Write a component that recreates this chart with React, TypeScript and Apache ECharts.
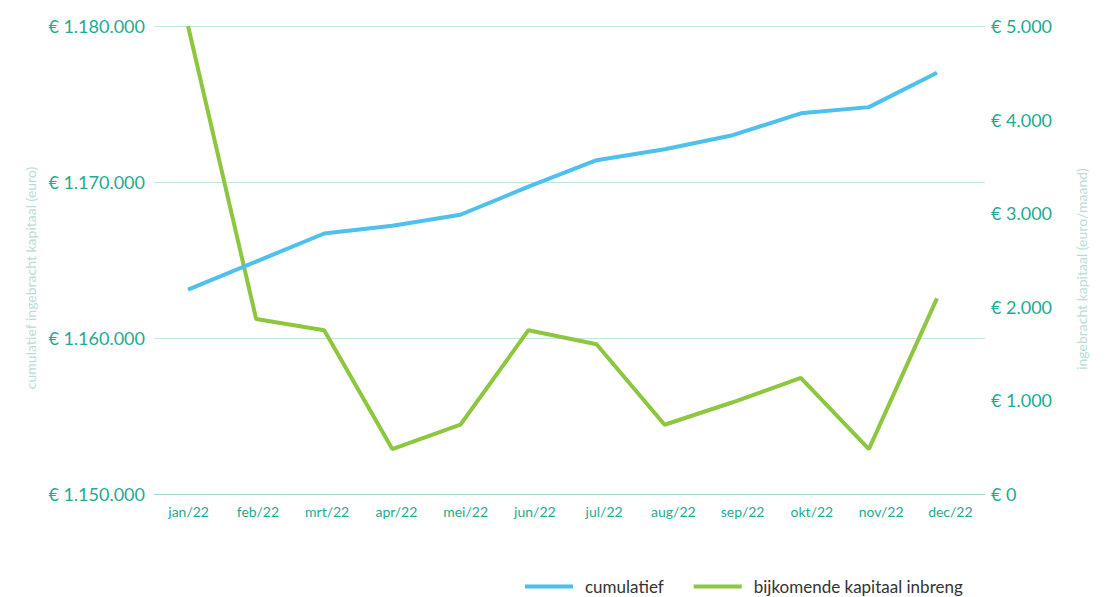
import React, { useEffect, useRef } from "react";
import * as echarts from "echarts";

const months = ["jan/22", "feb/22", "mrt/22", "apr/22", "mei/22", "jun/22", "jul/22", "aug/22", "sep/22", "okt/22", "nov/22", "dec/22"];
const cumulatief = [1163100, 1164900, 1166700, 1167200, 1167900, 1169700, 1171400, 1172100, 1173000, 1174400, 1174800, 1177000];
const bijkomend = [5000, 1870, 1750, 480, 740, 1750, 1600, 740, 980, 1240, 480, 2090];

const leftMin = 1150000;
const leftMax = 1180000;
const leftInterval = 10000;
const rightMin = 0;
const rightMax = 5000;
const rightInterval = 1000;

const TEAL = "#1faa94";
const FONT = "Lato, 'Open Sans', sans-serif";

const fmtEuro = (v: number) => "€ " + Math.round(v).toLocaleString("de-DE");

export default function App() {
  const ref = useRef<HTMLDivElement>(null);
  useEffect(() => {
    if (!ref.current) return;
    const chart = echarts.init(ref.current, undefined, { renderer: "svg" });
    chart.setOption({
      animation: false,
      textStyle: { fontFamily: FONT },
      grid: [
        { left: 154, right: 121, top: 26, bottom: 103 },
        { left: 154, right: 135, top: 26, bottom: 103 },
      ],
      legend: {
        left: 520,
        top: 573,
        icon: "rect",
        itemWidth: 48,
        itemHeight: 4,
        itemGap: 30,
        textStyle: { fontFamily: FONT, fontSize: 17, color: "#333", padding: [0, 0, 0, 7] },
        data: ["cumulatief", "bijkomende kapitaal inbreng"],
      },
      xAxis: [
        {
          type: "category",
          gridIndex: 0,
          data: months,
          boundaryGap: true,
          axisLine: { show: true, lineStyle: { color: "#a6dace", width: 1 } },
          axisTick: { show: false },
          axisLabel: { color: TEAL, fontSize: 14, margin: 10, fontFamily: FONT },
          splitLine: { show: false },
        },
        {
          type: "category",
          gridIndex: 1,
          data: months,
          boundaryGap: true,
          show: false,
        },
      ],
      yAxis: [
        {
          type: "value",
          gridIndex: 0,
          position: "left",
          min: leftMin,
          max: leftMax,
          interval: leftInterval,
          name: "cumulatief ingebracht kapitaal (euro)",
          nameLocation: "middle",
          nameGap: 109,
          nameRotate: 90,
          nameTextStyle: { color: "#b8ddd6", fontSize: 14, fontFamily: FONT, padding: [0, 36, 0, 0] },
          axisLine: { show: false },
          axisTick: { show: false },
          axisLabel: { color: TEAL, fontSize: 18, margin: 9, formatter: fmtEuro, fontFamily: FONT },
          splitLine: { show: true, lineStyle: { color: "#c4e5de", width: 1 } },
        },
        {
          type: "value",
          gridIndex: 0,
          position: "right",
          min: rightMin,
          max: rightMax,
          interval: rightInterval,
          name: "ingebracht kapitaal (euro/maand)",
          nameLocation: "middle",
          nameGap: 89,
          nameRotate: 90,
          nameTextStyle: { color: "#b8ddd6", fontSize: 14, fontFamily: FONT, padding: [0, 18, 0, 0] },
          axisLine: { show: false },
          axisTick: { show: false },
          axisLabel: { color: TEAL, fontSize: 18, margin: 6, formatter: fmtEuro, fontFamily: FONT },
          splitLine: { show: false },
        },
        {
          type: "value",
          gridIndex: 1,
          position: "left",
          min: leftMin,
          max: leftMax,
          interval: leftInterval,
          show: false,
          splitLine: { show: false },
        },
        {
          type: "value",
          gridIndex: 1,
          position: "right",
          min: rightMin,
          max: rightMax,
          interval: rightInterval,
          show: false,
          splitLine: { show: false },
        },
      ],
      series: [
        {
          name: "cumulatief",
          type: "line",
          xAxisIndex: 1,
          yAxisIndex: 2,
          data: cumulatief,
          symbol: "none",
          lineStyle: { color: "#4dc0ee", width: 4 },
          itemStyle: { color: "#4dc0ee" },
          z: 3,
        },
        {
          name: "bijkomende kapitaal inbreng",
          type: "line",
          xAxisIndex: 1,
          yAxisIndex: 3,
          data: bijkomend,
          symbol: "none",
          lineStyle: { color: "#8dc63f", width: 4 },
          itemStyle: { color: "#8dc63f" },
          z: 2,
        },
      ],
    });
    return () => chart.dispose();
  }, []);
  return <div ref={ref} style={{ width: 1106, height: 597, position: "absolute", left: 0, top: 0 }} />;
}
